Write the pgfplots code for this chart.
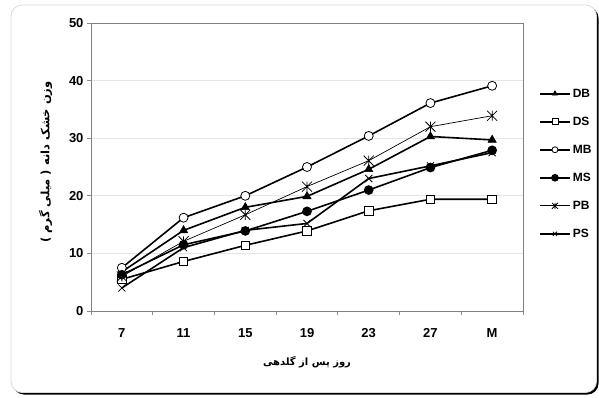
\documentclass[border=0pt]{standalone}
\usepackage{fontspec}
\setmainfont{Liberation Sans}
\newfontfamily\arabicfont[Script=Arabic]{DejaVu Sans}
\TeXXeTstate=1
\usepackage{pgfplots}
\usepackage{pgfplotstable}
\pgfplotsset{compat=1.18}

% dry grain weight (mg) per sampling day; x = 0..6 stands for 7,11,15,19,23,27,M
\pgfplotstableread{
x DB   DS   MB   MS   PB   PS
0 6.8  5.5  7.5  6.3  6.0  4.0
1 14.0 8.6  16.2 11.5 12.1 11.0
2 18.0 11.4 20.0 13.9 16.7 14.0
3 19.9 13.9 25.0 17.3 21.6 15.2
4 24.6 17.4 30.4 21.0 26.1 23.0
5 30.3 19.4 36.1 24.9 32.0 25.2
6 29.7 19.4 39.1 27.9 33.9 27.5
}\grainweight

% star marker: a cross with a vertical stroke
\pgfdeclareplotmark{xstar}{%
  \pgfpathmoveto{\pgfqpoint{-\pgfplotmarksize}{-\pgfplotmarksize}}%
  \pgfpathlineto{\pgfqpoint{\pgfplotmarksize}{\pgfplotmarksize}}%
  \pgfpathmoveto{\pgfqpoint{-\pgfplotmarksize}{\pgfplotmarksize}}%
  \pgfpathlineto{\pgfqpoint{\pgfplotmarksize}{-\pgfplotmarksize}}%
  \pgfpathmoveto{\pgfqpoint{0pt}{-\pgfplotmarksize}}%
  \pgfpathlineto{\pgfqpoint{0pt}{\pgfplotmarksize}}%
  \pgfusepathqstroke}

\begin{document}
\begin{tikzpicture}[x=1pt,y=1pt]
\useasboundingbox (0,0) rectangle (599,397);
% framed panel with drop shadow
\fill[black, rounded corners=11pt] (13,2.5) rectangle (598.5,390);
\draw[black!15, line width=0.8pt, fill=white, rounded corners=11pt] (11,4.5) rectangle (596.5,392);

\begin{axis}[
  at={(91pt,86pt)}, anchor=south west,
  scale only axis, width=432pt, height=288pt,
  xmin=-0.5, xmax=6.5, ymin=0, ymax=50,
  xtick={0,...,6}, xticklabels={7,11,15,19,23,27,M},
  minor xtick={-0.5,0.5,...,6.5},
  major x tick style={draw=none},
  ytick={0,10,...,50},
  tick pos=left, tick align=outside,
  major tick length=4pt, minor tick length=4pt,
  tick style={black!45, line width=0.8pt},
  axis line style={black!50, line width=1pt},
  ymajorgrids, grid style={black!10, line width=0.8pt},
  /pgf/number format/assume math mode=true,
  ticklabel style={font=\fontsize{13}{15}\selectfont\bfseries},
  xticklabel style={yshift=-10pt},
  xlabel={\arabicfont\beginR روز پس از گلدهی\endR},
  ylabel={\arabicfont\beginR وزن خشک دانه ( میلی گرم )\endR},
  xlabel style={font=\fontsize{10}{12}\selectfont\bfseries,
    at={(axis description cs:0.5,-0.177)}, anchor=center},
  ylabel style={font=\fontsize{11.5}{13}\selectfont\bfseries,
    at={(axis description cs:-0.105,0.517)}, anchor=center},
  legend style={at={(axis description cs:1.03,0.786)}, anchor=north west,
    draw=none, fill=none, font=\fontsize{12}{14}\selectfont\bfseries,
    row sep=14.2pt, legend cell align=left},
  legend image code/.code={%
    \draw[mark repeat=2, mark phase=2, mark size=3pt]
      plot coordinates {(0pt,0pt) (15pt,0pt) (30pt,0pt)};},
]
\addplot[black, line width=1.6pt, mark=triangle*, mark size=4.8pt,
  mark options={solid, fill=black, line width=0.5pt}]
  table[x=x, y=DB] {\grainweight};
\addlegendentry{DB}
\addplot[black, line width=1.6pt, mark=square*, mark size=4.3pt,
  mark options={solid, fill=white, line width=0.8pt}]
  table[x=x, y=DS] {\grainweight};
\addlegendentry{DS}
\addplot[black, line width=1.6pt, mark=*, mark size=4.5pt,
  mark options={solid, fill=white, line width=0.8pt}]
  table[x=x, y=MB] {\grainweight};
\addlegendentry{MB}
\addplot[black, line width=1.6pt, mark=*, mark size=4pt,
  mark options={solid, fill=black}]
  table[x=x, y=MS] {\grainweight};
\addlegendentry{MS}
\addplot[black, line width=0.7pt, mark=xstar, mark size=5pt,
  mark options={solid, line width=0.8pt}]
  table[x=x, y=PB] {\grainweight};
\addlegendentry{PB}
\addplot[black, line width=1.6pt, mark=x, mark size=5pt,
  mark options={solid, line width=0.8pt}]
  table[x=x, y=PS] {\grainweight};
\addlegendentry{PS}
\end{axis}
\end{tikzpicture}
\end{document}
